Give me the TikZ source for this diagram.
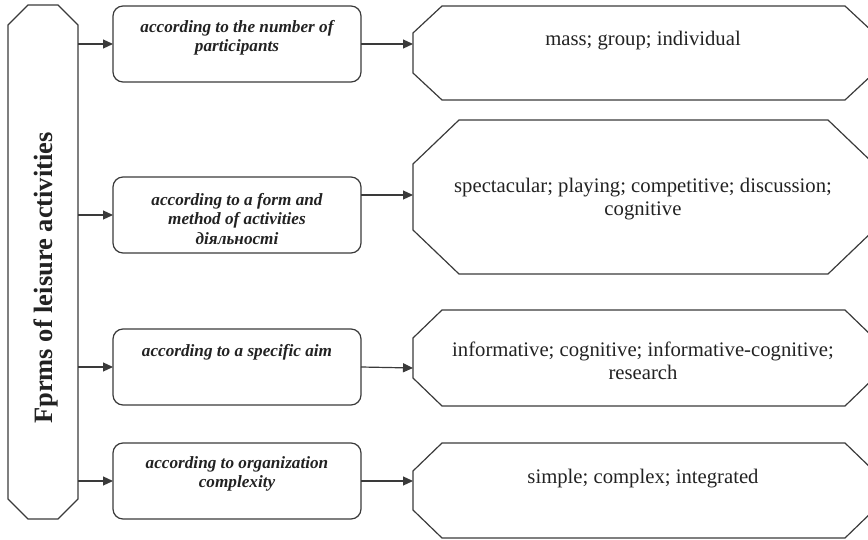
\documentclass[tikz,border=0pt]{standalone}
\usepackage{fontspec}
\setmainfont{Liberation Serif}
\usetikzlibrary{arrows.meta}
\definecolor{ln}{HTML}{3A3A3A}
\definecolor{tx}{HTML}{222222}
\newcommand\octpath[3]{\draw[boxline] ([xshift=#2]#1.north west) -- ([xshift=-#2]#1.north east) -- ([yshift=-#3]#1.north east) -- ([yshift=#3]#1.south east) -- ([xshift=-#2]#1.south east) -- ([xshift=#2]#1.south west) -- ([yshift=#3]#1.south west) -- ([yshift=-#3]#1.north west) -- cycle;}
\begin{document}
\begin{tikzpicture}[x=1pt,y=-1pt,
  boxline/.style={draw=ln,line width=1.2pt,line join=miter},
  frame/.style={draw=none,inner sep=0pt,outer sep=0pt},
  midbox/.style={draw=ln,line width=1.2pt,rounded corners=10pt,inner sep=0pt,outer sep=0pt,minimum width=248pt,minimum height=76pt},
  midtext/.style={text=tx,align=center,inner sep=0pt,font=\fontsize{17.2}{19.5}\selectfont\bfseries\itshape},
  righttext/.style={text=tx,align=center,inner sep=0pt,font=\fontsize{20.7}{23}\selectfont},
  arr/.style={draw=ln,line width=1.2pt,-{Triangle[length=10pt,width=9pt]}}]
\clip (0,0) rectangle (868,540);
% left octagon
\node[frame,minimum width=70pt,minimum height=514pt] (L) at (43,262) {};
\octpath{L}{20}{20}
\node[text=tx,inner sep=0pt,rotate=90,font=\fontsize{26.5}{30}\selectfont\bfseries] (Lt) at (46,278) {Fprms of leisure activities};
% middle boxes
\node[midbox] (m1) at (237,44) {};
\node[midbox] (m2) at (237,215) {};
\node[midbox] (m3) at (237,367) {};
\node[midbox] (m4) at (237,481) {};
\node[midtext] (m1t) at (237,38) {according to the number of\\participants};
\node[midtext] (m2t) at (237,219) {according to a form and\\method of activities\\діяльності};
\node[midtext] (m3t) at (237,352) {according to a specific aim};
\node[midtext] (m4t) at (237,474) {according to organization\\complexity};
% right octagons
\node[frame,minimum width=461pt,minimum height=94pt] (r1) at (643.5,53) {};
\node[frame,minimum width=461pt,minimum height=154pt] (r2) at (643.5,197) {};
\node[frame,minimum width=461pt,minimum height=96pt] (r3) at (643.5,358) {};
\node[frame,minimum width=461pt,minimum height=95pt] (r4) at (643.5,490.5) {};
\octpath{r1}{29}{27}
\octpath{r2}{46}{44}
\octpath{r3}{29}{28}
\octpath{r4}{29}{28}
\node[righttext] (r1t) at (643,41) {mass; group; individual};
\node[righttext] (r2t) at (643,199) {spectacular; playing; competitive; discussion;\\cognitive};
\node[righttext] (r3t) at (643,361) {informative; cognitive; informative-cognitive;\\research};
\node[righttext] (r4t) at (643,479) {simple; complex; integrated};
% connectors
\draw[arr] (L.east |- m1.west) -- (m1.west);
\draw[arr] (L.east |- m2.west) -- (m2.west);
\draw[arr] (L.east |- m3.west) -- (m3.west);
\draw[arr] (L.east |- m4.west) -- (m4.west);
\draw[arr] (m1.east) -- (m1.east -| r1.west);
\draw[arr] ([yshift=20pt]m2.east) -- ([yshift=20pt]m2.east -| r2.west);
\draw[arr] (m3.east) -- ([yshift=-1pt]m3.east -| r3.west);
\draw[arr] (m4.east) -- (m4.east -| r4.west);
\end{tikzpicture}
\end{document}
